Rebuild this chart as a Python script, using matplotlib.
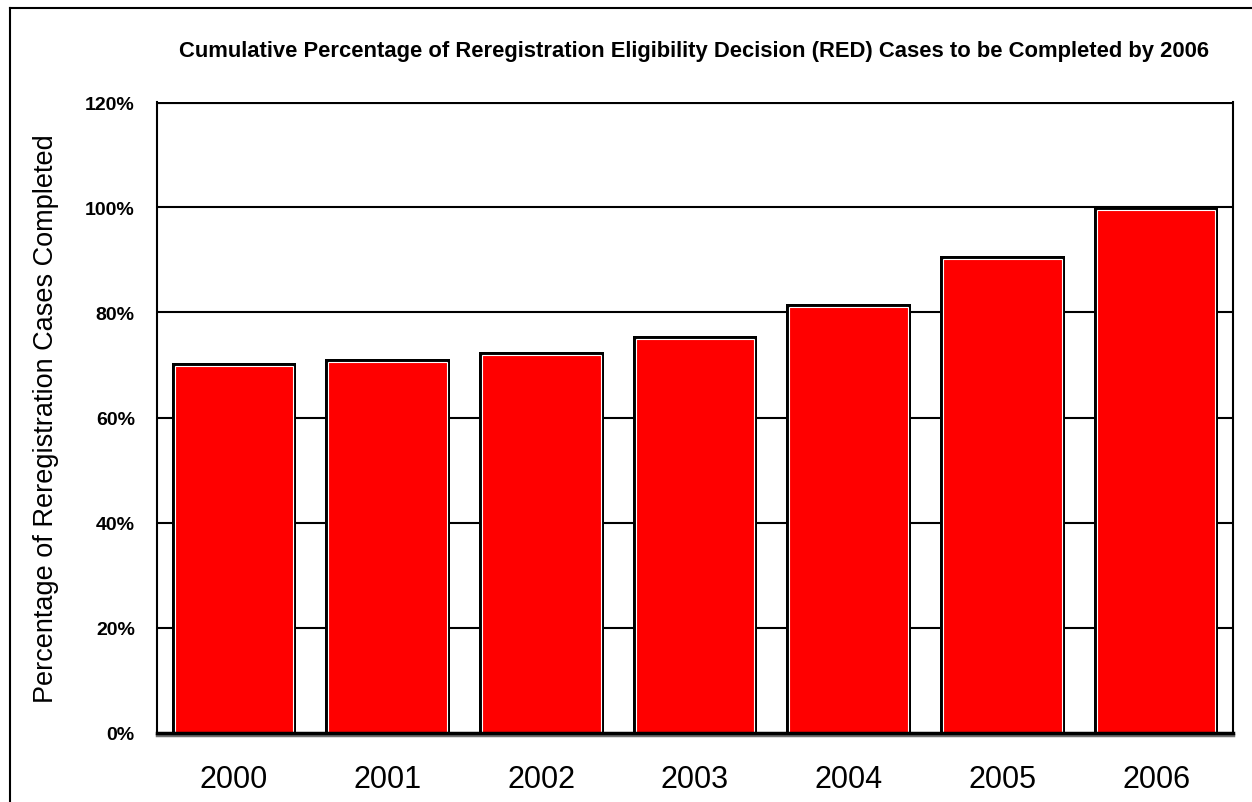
import matplotlib
matplotlib.use("Agg")
import matplotlib.pyplot as plt
import matplotlib.patheffects as pe
from matplotlib.lines import Line2D
import numpy as np

plt.rcParams["font.family"] = ["Liberation Sans", "DejaVu Sans"]

years = ["2000", "2001", "2002", "2003", "2004", "2005", "2006"]
pct_done = [70.4, 71.2, 72.4, 75.5, 81.5, 90.7, 100.0]
yticks = [0, 20, 40, 60, 80, 100, 120]
ytick_labels = [f"{t}%" for t in yticks]

fig = plt.figure(figsize=(12.52, 8.03), dpi=100)
ax = fig.add_axes([157 / 1252, 1 - 734 / 803, 1076 / 1252, 631 / 803])

x = np.arange(len(years))
w = 0.81
dx = 3 / 153.7   # inset for the red face, in category units
dy = 3 / 5.26    # inset in percent units

# gridlines behind the bars
for t in yticks[1:-1]:
    ax.axhline(t, color="black", lw=1.5, zorder=1)
ax.axhline(120, color="black", lw=3, zorder=1)

ax.bar(x, pct_done, width=w, color="black", lw=0, zorder=2)
ax.bar(x, np.array(pct_done) - dy, width=w - 2 * dx, color="red",
       edgecolor="white", lw=0.8, zorder=3)

ax.set_xlim(-0.5, len(years) - 0.5)
ax.set_ylim(0, 120)
ax.set_xticks(x)
ax.set_xticklabels(years, fontsize=22)
ax.set_yticks(yticks)
ax.set_yticklabels(ytick_labels, fontsize=14, fontweight="bold")
ax.tick_params(axis="x", length=0, pad=22)
ax.tick_params(axis="y", length=0, pad=16)

for s in ["left", "right"]:
    ax.spines[s].set_linewidth(1.5)
ax.spines["top"].set_visible(False)
ax.spines["bottom"].set_linewidth(2.5)
ax.spines["bottom"].set_zorder(4)
ax.spines["bottom"].set_path_effects([
    pe.SimpleLineShadow(offset=(0, -1.5), shadow_color="#707070", alpha=1),
    pe.Normal()])

ax.set_ylabel("Percentage of Reregistration Cases Completed", fontsize=19.5)
ax.yaxis.set_label_coords(-(157 - 59) / 1076, 0.5)

fig.text(694 / 1252, 1 - 51 / 803,
         "Cumulative Percentage of Reregistration Eligibility Decision (RED) "
         "Cases to be Completed by 2006",
         ha="center", va="center", fontsize=15.8, fontweight="bold")

# outer frame (left and top edges visible)
fig.add_artist(Line2D([10 / 1252, 10 / 1252], [0, 1 - 9 / 803],
                      transform=fig.transFigure, color="black", lw=1.5))
fig.add_artist(Line2D([10 / 1252, 1], [1 - 9 / 803, 1 - 9 / 803],
                      transform=fig.transFigure, color="black", lw=1.5))

fig.savefig("out.png", dpi=100)
